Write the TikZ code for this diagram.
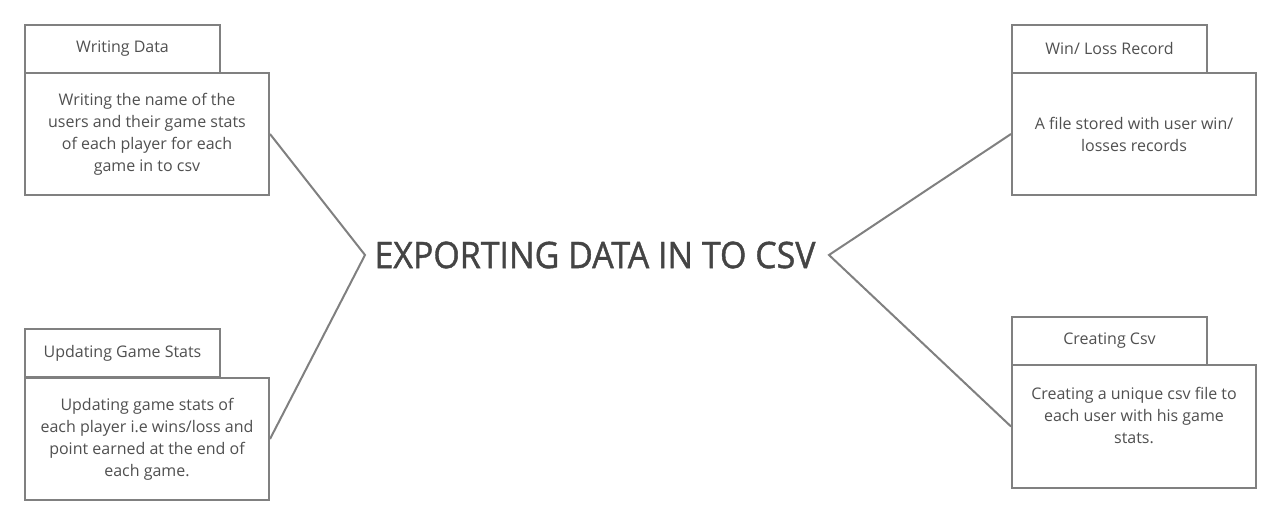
\documentclass[tikz,border=0pt]{standalone}
\usepackage{fontspec}
\setmainfont{Open Sans}
\newfontfamily\titlefont[FakeBold=1.2]{Open Sans}
\usepackage{graphicx}
\definecolor{linegray}{HTML}{808080}
\definecolor{txtgray}{HTML}{505050}
\definecolor{titlegray}{HTML}{444444}
\tikzset{
  tabbox/.style={draw=linegray, line width=2pt, fill=white, inner sep=0pt,
    minimum width=195pt, minimum height=48pt, text=txtgray,
    font=\fontsize{16pt}{22pt}\selectfont},
  bodybox/.style={draw=linegray, line width=2pt, fill=white, inner sep=0pt,
    minimum width=244pt, minimum height=122pt, text=txtgray, align=center,
    font=\fontsize{16pt}{22pt}\selectfont},
  conn/.style={draw=linegray, line width=2pt, line join=miter}
}
\begin{document}
\begin{tikzpicture}[x=1pt,y=-1pt]
\useasboundingbox (0,0) rectangle (1280,524);
% Left top
\node[tabbox, anchor=north west] (t1) at (24,24) {Writing Data};
\node[bodybox, anchor=north west] (b1) at (24,72) {Writing the name of the\\users and their game stats\\of each player for each\\game in to csv};
% Left bottom
\node[tabbox, anchor=north west] (t2) at (24,328) {Updating Game Stats};
\node[bodybox, anchor=north west] (b2) at (24,377) {Updating game stats of\\each player i.e wins/loss and\\point earned at the end of\\each game.};
% Right top
\node[tabbox, anchor=north west] (t3) at (1011,24) {Win/ Loss Record};
\node[bodybox, anchor=north west] (b3) at (1011,72) {A file stored with user win/\\losses records};
% Right bottom
\node[tabbox, anchor=north west] (t4) at (1011,316) {Creating Csv};
\node[bodybox, anchor=north west, minimum height=123pt] (b4) at (1011,364) {Creating a unique csv file to\\each user with his game\\stats.\\\mbox{}};
% Title
\node[text=titlegray, font=\titlefont\fontsize{36.5pt}{42pt}\selectfont, inner sep=0pt] (title) at (595,255) {\scalebox{0.93}[1]{EXPORTING DATA IN TO CSV}};
\coordinate (apexL) at (365,255);
\coordinate (apexR) at (829,255);
\draw[conn] (b1.east) -- (apexL) -- (b2.east);
\draw[conn] (b3.west) -- (apexR) -- (b4.west);
\end{tikzpicture}
\end{document}
